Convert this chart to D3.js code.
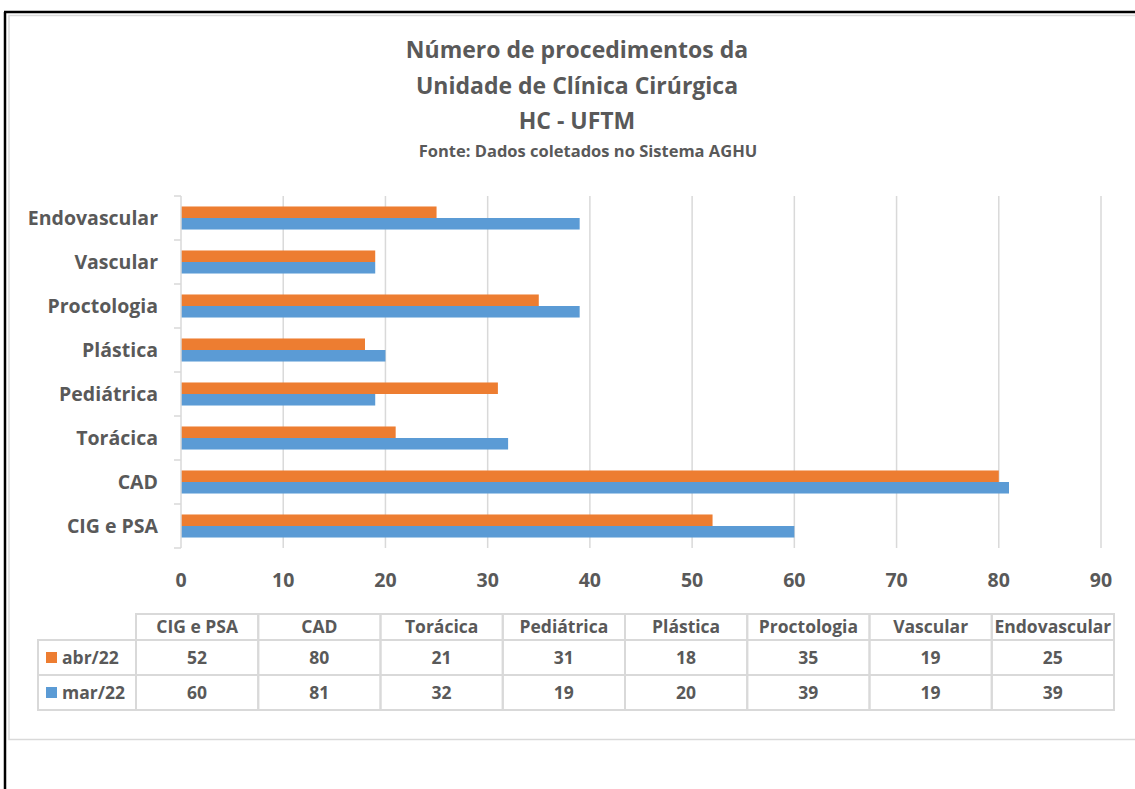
<!DOCTYPE html>
<html>
<head>
<meta charset="utf-8">
<script src="https://cdn.jsdelivr.net/npm/d3@7"></script>
<style>
  body { margin: 0; background: #fff; }
  svg { display: block; font-family: "Open Sans", Lato, sans-serif; font-weight: bold; }
</style>
</head>
<body>
<svg id="chart" width="1135" height="789"></svg>
<script>
// data (bottom to top on the chart)
const categories = ["CIG e PSA", "CAD", "Torácica", "Pediátrica", "Plástica", "Proctologia", "Vascular", "Endovascular"];
const abr22 = [52, 80, 21, 31, 18, 35, 19, 25];
const mar22 = [60, 81, 32, 19, 20, 39, 19, 39];
const seriesNames = ["abr/22", "mar/22"];
const seriesColors = ["#ED7D31", "#5B9BD5"];
const xTicks = [0, 10, 20, 30, 40, 50, 60, 70, 80, 90];
const titleLines = ["Número de procedimentos da", "Unidade de Clínica Cirúrgica", "HC - UFTM"];
const subtitle = "Fonte: Dados coletados no Sistema AGHU";

const textColor = "#595959";
const gridColor = "#d9d9d9";

const svg = d3.select("#chart");

// outer frame
svg.append("line").attr("x1", 4).attr("x2", 1135).attr("y1", 12).attr("y2", 12)
  .attr("stroke", "#000").attr("stroke-width", 2.5);
svg.append("line").attr("x1", 5).attr("x2", 5).attr("y1", 12).attr("y2", 789)
  .attr("stroke", "#000").attr("stroke-width", 2.5);
svg.append("rect").attr("x", 9).attr("y", 15.5).attr("width", 1140).attr("height", 724)
  .attr("fill", "none").attr("stroke", gridColor).attr("stroke-width", 1.5);

// title
svg.selectAll(".title")
  .data(titleLines)
  .enter()
  .append("text")
  .attr("x", 577)
  .attr("y", (d, i) => 58 + i * 35.5)
  .attr("text-anchor", "middle")
  .style("font-size", "23px")
  .style("fill", textColor)
  .text(d => d);
svg.append("text")
  .attr("x", 588).attr("y", 157)
  .attr("text-anchor", "middle")
  .style("font-size", "16.5px")
  .style("fill", textColor)
  .text(subtitle);

// scales
const x = d3.scaleLinear().domain([0, 90]).range([181, 1101]);
const y = d3.scaleBand().domain(categories.slice().reverse()).range([196, 548]);
const inner = d3.scaleBand().domain(seriesNames).range([0, y.bandwidth()]).paddingInner(0).paddingOuter(0.91);

// grid
svg.append("g")
  .selectAll("line")
  .data(xTicks.slice(1))
  .enter()
  .append("line")
  .attr("x1", d => x(d)).attr("x2", d => x(d))
  .attr("y1", 196).attr("y2", 548)
  .attr("stroke", gridColor).attr("stroke-width", 1.5);

// bars
const rows = categories.map((c, i) => ({ cat: c, vals: [abr22[i], mar22[i]] }));
const groups = svg.append("g")
  .selectAll("g")
  .data(rows)
  .enter()
  .append("g")
  .attr("transform", d => `translate(0,${y(d.cat)})`);
groups.selectAll("rect")
  .data(d => d.vals.map((v, k) => ({ v: v, k: k })))
  .enter()
  .append("rect")
  .attr("x", x(0))
  .attr("y", d => inner(seriesNames[d.k]))
  .attr("width", d => x(d.v) - x(0))
  .attr("height", inner.bandwidth())
  .attr("fill", d => seriesColors[d.k]);

// y axis
const yAxis = svg.append("g").attr("transform", `translate(${x(0)},0)`);
yAxis.append("line").attr("x1", 0).attr("x2", 0).attr("y1", 196).attr("y2", 548)
  .attr("stroke", gridColor).attr("stroke-width", 1.5);
yAxis.selectAll(".tk")
  .data(categories.concat([null]))
  .enter()
  .append("line")
  .attr("x1", -7).attr("x2", 0)
  .attr("y1", (d, i) => 196 + i * y.step())
  .attr("y2", (d, i) => 196 + i * y.step())
  .attr("stroke", gridColor).attr("stroke-width", 1.5);
svg.append("g")
  .selectAll("text")
  .data(categories)
  .enter()
  .append("text")
  .attr("x", 158)
  .attr("y", d => y(d) + y.bandwidth() / 2)
  .attr("dy", "0.35em")
  .attr("text-anchor", "end")
  .style("font-size", "19.5px")
  .style("fill", textColor)
  .text(d => d);

// x tick labels
svg.append("g")
  .selectAll("text")
  .data(xTicks)
  .enter()
  .append("text")
  .attr("x", d => x(d))
  .attr("y", 580)
  .attr("dy", "0.35em")
  .attr("text-anchor", "middle")
  .style("font-size", "19.5px")
  .style("fill", textColor)
  .text(d => d);

// data table
const tableX0 = 38, colX0 = 136, colW = 122.25;
const rowY = [614, 640, 675, 710];
const tbl = svg.append("g");
// header cells
tbl.selectAll(".hd")
  .data(categories)
  .enter()
  .append("rect")
  .attr("x", (d, i) => colX0 + i * colW)
  .attr("y", rowY[0])
  .attr("width", colW).attr("height", rowY[1] - rowY[0])
  .attr("fill", "none").attr("stroke", gridColor).attr("stroke-width", 2);
tbl.selectAll(".hdt")
  .data(categories)
  .enter()
  .append("text")
  .attr("x", (d, i) => colX0 + i * colW + colW / 2)
  .attr("y", (rowY[0] + rowY[1]) / 2)
  .attr("dy", "0.35em")
  .attr("text-anchor", "middle")
  .style("font-size", "17.5px")
  .style("fill", textColor)
  .text(d => d);

[abr22, mar22].forEach((vals, s) => {
  const y0 = rowY[s + 1], h = rowY[s + 2] - rowY[s + 1];
  tbl.append("rect")
    .attr("x", tableX0).attr("y", y0)
    .attr("width", colX0 - tableX0).attr("height", h)
    .attr("fill", "none").attr("stroke", gridColor).attr("stroke-width", 2);
  tbl.append("rect")
    .attr("x", 46).attr("y", y0 + h / 2 - 5.5)
    .attr("width", 11).attr("height", 11)
    .attr("fill", seriesColors[s]);
  tbl.append("text")
    .attr("x", 62).attr("y", y0 + h / 2)
    .attr("dy", "0.35em")
    .style("font-size", "17.5px")
    .style("fill", textColor)
    .text(seriesNames[s]);
  tbl.selectAll(".c" + s)
    .data(vals)
    .enter()
    .append("rect")
    .attr("x", (d, i) => colX0 + i * colW)
    .attr("y", y0)
    .attr("width", colW).attr("height", h)
    .attr("fill", "none").attr("stroke", gridColor).attr("stroke-width", 2);
  tbl.selectAll(".t" + s)
    .data(vals)
    .enter()
    .append("text")
    .attr("x", (d, i) => colX0 + i * colW + colW / 2)
    .attr("y", y0 + h / 2)
    .attr("dy", "0.35em")
    .attr("text-anchor", "middle")
    .style("font-size", "17.5px")
    .style("fill", textColor)
    .text(d => d);
});
</script>
</body>
</html>
